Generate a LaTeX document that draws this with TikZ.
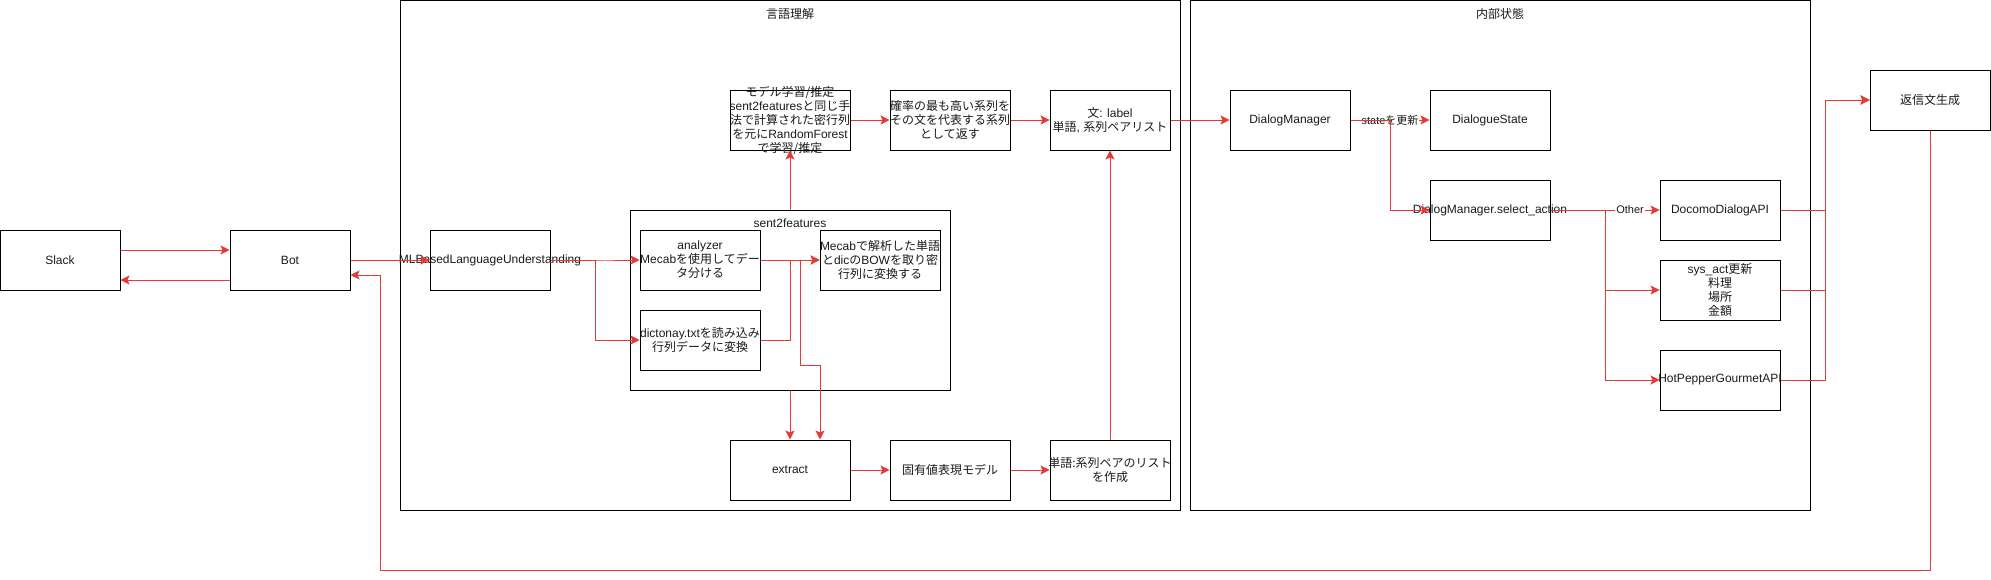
\documentclass[tikz,border=0pt]{standalone}
\usepackage{fontspec}
\setmainfont{Liberation Sans}
\newfontfamily\jp{Noto Sans CJK JP}
\usepackage{tikz}
\usetikzlibrary{arrows.meta}
\definecolor{edgered}{RGB}{229,57,53}
\definecolor{ink}{RGB}{26,26,26}

\begin{document}
\begin{tikzpicture}[x=1pt, y=-1pt,
    every node/.style={font=\fontsize{12}{14}\selectfont, text=ink},
    every label/.style={align=center, inner sep=0pt},
    box/.style={draw=black, line width=1pt, minimum width=120pt, minimum height=60pt, inner sep=0pt},
    frame/.style={draw=black, line width=1pt, inner sep=0pt},
    arr/.style={draw=edgered, line width=1pt, -{Stealth[length=9pt, width=9pt, inset=2pt]}},
    lbl/.style={fill=white, inner sep=1pt, font=\fontsize{11}{13}\selectfont}]
  \useasboundingbox (0,0) rectangle (1991,579);

  % Frames
  \node[frame, minimum width=780pt, minimum height=510pt] (lang) at (790,255) {};
  \node (lang-title) at (790,14) {{\jp 言語理解}};
  \node[frame, minimum width=620pt, minimum height=510pt] (state) at (1500,255) {};
  \node (state-title) at (1500,14) {{\jp 内部状態}};
  \node[frame, minimum width=320pt, minimum height=180pt] (s2f) at (790,300) {};
  \node (s2f-title) at (790,223) {sent2features};

  % Nodes
  \node[box, label={center:Slack}] (slack) at (60,260) {};
  \node[box, label={center:Bot}] (bot) at (290,260) {};
  \node[box, label={center:MLBasedLanguageUnderstanding}] (mlu) at (490,260) {};

  \node[box, label={center:{\jp モデル学習/推定}\\sent2features{\jp と同じ手}\\{\jp 法で計算された密行列}\\{\jp を元に}RandomForest\\{\jp で学習/推定}}] (model) at (790,120) {};
  \node[box, label={center:{\jp 確率の最も高い系列を}\\{\jp その文を代表する系列}\\{\jp として返す}}] (best) at (950,120) {};
  \node[box, label={center:{\jp 文}: label\\{\jp 単語}, {\jp 系列ペアリスト}}] (sentlabel) at (1110,120) {};

  \node[box, label={center:analyzer\\Mecab{\jp を使用してデー}\\{\jp タ分ける}}] (analyzer) at (700,260) {};
  \node[box, label={center:Mecab{\jp で解析した単語}\\{\jp と}dic{\jp の}BOW{\jp を取り密}\\{\jp 行列に変換する}}] (mecab) at (880,260) {};
  \node[box, label={center:dictonay.txt{\jp を読み込み}\\{\jp 行列データに変換}}] (dict) at (700,340) {};

  \node[box, label={center:extract}] (extract) at (790,470) {};
  \node[box, label={center:{\jp 固有値表現モデル}}] (ner) at (950,470) {};
  \node[box, label={center:{\jp 単語:系列ペアのリスト}\\{\jp を作成}}] (pairs) at (1110,470) {};

  \node[box, label={center:DialogManager}] (dm) at (1290,120) {};
  \node[box, label={center:DialogueState}] (dstate) at (1490,120) {};
  \node[box, label={center:DialogManager.select\_action}] (select) at (1490,210) {};

  \node[box, label={center:DocomoDialogAPI}] (docomo) at (1720,210) {};
  \node[box, label={center:sys\_act{\jp 更新}\\{\jp 料理}\\{\jp 場所}\\{\jp 金額}}] (sysact) at (1720,290) {};
  \node[box, label={center:HotPepperGourmetAPI}] (hotpepper) at (1720,380) {};

  \node[box, label={center:{\jp 返信文生成}}] (reply) at (1930,100) {};

  % Edges
  \draw[arr] ([yshift=10pt]slack.east) -- ([yshift=10pt]bot.west);
  \draw[arr] ([yshift=-20pt]bot.west) -- ([yshift=-20pt]slack.east);

  \foreach \u/\v in {bot/mlu, analyzer/mecab, model/best, best/sentlabel, sentlabel/dm, extract/ner, ner/pairs}
    \draw[arr] (\u) -- (\v);

  \foreach \v in {analyzer, dict}
    \draw[arr] (mlu.east) -- ++(45,0) |- (\v.west);
  \draw[arr] (dict.east) -- ++(30,0) |- (mecab.west);
  \draw[arr] (analyzer.east) -| (800,365) -| ([xshift=30pt]extract.north);
  \draw[arr] (s2f.south) -- (extract.north);
  \draw[arr] (s2f.north) -- (model.south);
  \draw[arr] (pairs.north) -- (sentlabel.south);

  \draw[arr] (dm) -- (dstate) node[lbl, midway] {state{\jp を更新}};
  \draw[arr] (dm.east) -- ++(40,0) |- (select.west);

  \draw[arr] (select.east) -- (docomo.west) node[lbl, pos=0.73] {Other};
  \foreach \v in {sysact, hotpepper}
    \draw[arr] (select.east) -- ++(55,0) |- (\v.west);

  \foreach \u in {docomo, sysact, hotpepper}
    \draw[arr] (\u.east) -- ++(45,0) |- (reply.west);

  \draw[arr] (reply.south) |- (380,570) |- ([yshift=-15pt]bot.east);

\end{tikzpicture}
\end{document}
